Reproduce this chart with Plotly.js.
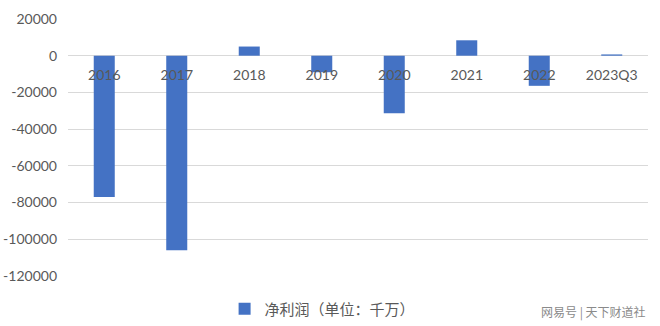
<!DOCTYPE html>
<html>
<head>
<meta charset="utf-8">
<script src="https://cdn.plot.ly/plotly-3.0.1.min.js"></script>
<style>html,body{margin:0;padding:0;background:#fff;}#chart{width:660px;height:326px;}</style>
</head>
<body>
<div id="chart"></div>
<script>
var categories = ['2016', '2017', '2018', '2019', '2020', '2021', '2022', '2023Q3'];
var netProfit = [-77000, -106000, 5000, -9000, -31300, 8400, -16400, 700];
var seriesName = '净利润（单位：千万）';
var yTicks = [20000, 0, -20000, -40000, -60000, -80000, -100000, -120000];

var trace = {
  type: 'bar',
  x: categories,
  y: netProfit,
  name: seriesName,
  marker: {color: '#4472C4'},
  showlegend: true
};

var layout = {
  width: 660,
  height: 326,
  margin: {l: 68, r: 12, t: 19, b: 50, autoexpand: false},
  paper_bgcolor: '#fff',
  plot_bgcolor: '#fff',
  bargap: 0.71,
  font: {family: 'Lato, "Noto Sans CJK SC", sans-serif', color: '#595959', size: 14},
  xaxis: {
    type: 'category',
    anchor: 'free',
    position: 120000 / 140000,
    showgrid: false,
    showline: false,
    ticks: '',
    ticklabelstandoff: 9,
    tickfont: {size: 14, color: '#595959'}
  },
  yaxis: {
    range: [-120000, 20000],
    tickvals: yTicks,
    ticktext: yTicks.map(String),
    showgrid: true,
    gridcolor: '#d9d9d9',
    gridwidth: 1,
    zeroline: true,
    zerolinecolor: '#d9d9d9',
    zerolinewidth: 1,
    showline: false,
    ticks: '',
    ticklabelstandoff: 10,
    tickfont: {size: 14, color: '#595959'}
  },
  legend: {
    orientation: 'h',
    x: 0.27,
    xanchor: 'left',
    yref: 'container',
    y: 0.052,
    yanchor: 'middle',
    font: {family: '"Noto Sans CJK SC", sans-serif', size: 15, color: '#595959'},
    itemwidth: 30
  },
  annotations: [{
    text: '网易号 | 天下财道社',
    xref: 'paper', yref: 'paper',
    x: 1.0, xanchor: 'right',
    y: -0.14, yanchor: 'middle',
    showarrow: false,
    font: {family: '"Noto Sans CJK SC", sans-serif', size: 12, color: '#8a8a8a'}
  }]
};

Plotly.newPlot('chart', [trace], layout, {displayModeBar: false, staticPlot: true});
</script>
</body>
</html>
